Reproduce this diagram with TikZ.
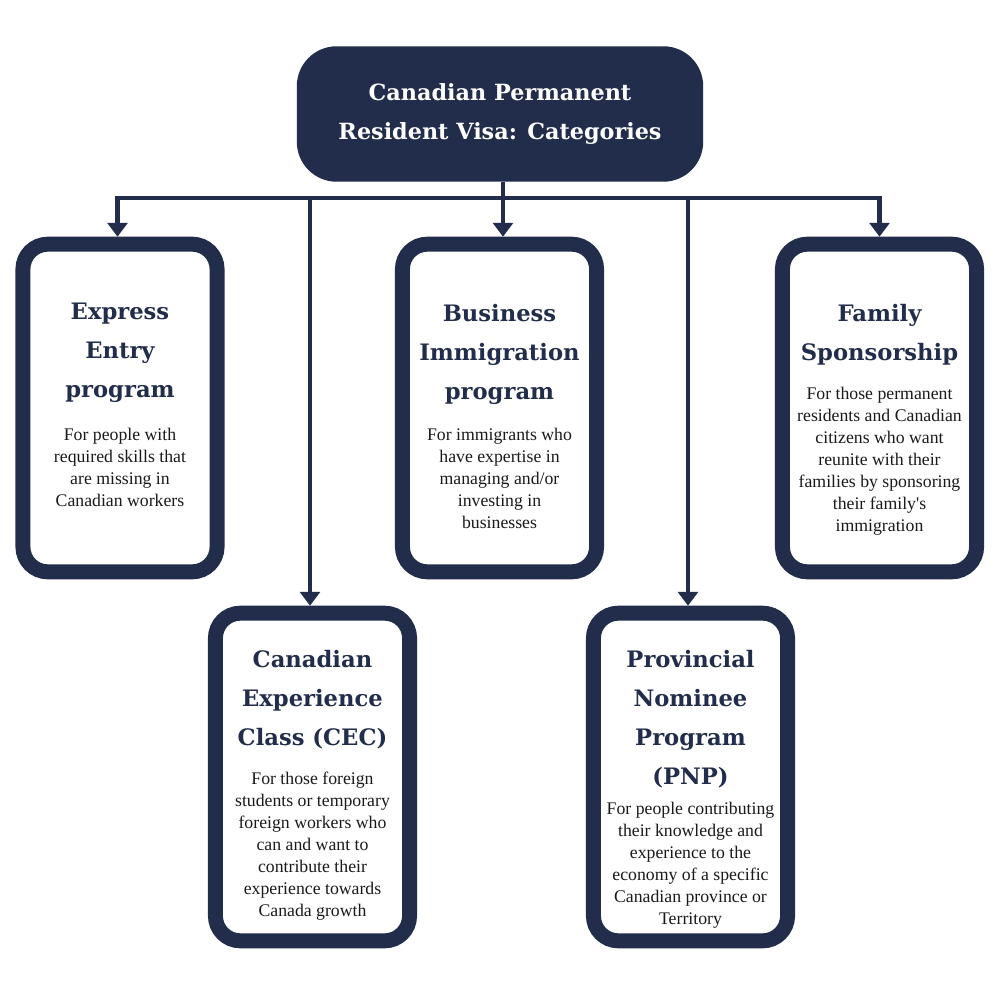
\documentclass[tikz,border=0pt]{standalone}
\usepackage{fontspec}
\setmainfont{Liberation Serif}
\newfontfamily\headfont{DejaVu Serif}
\usetikzlibrary{arrows.meta}
\definecolor{navy}{HTML}{212D4A}
\definecolor{ink}{HTML}{1A1A1A}

\begin{document}
\begin{tikzpicture}[x=0.02cm, y=-0.02cm,
  navytip/.tip={Triangle[width=11.3pt,length=7.9pt]},
  rootbox/.style={fill=navy, rounded corners=22.7pt, minimum width=231.3pt,
    minimum height=77.1pt, inner sep=0pt, text=white, align=center,
    font=\headfont\bfseries\fontsize{12.7pt}{21.8pt}\selectfont},
  card/.style={draw=navy, fill=white, line width=8.5pt, rounded corners=14.2pt,
    minimum width=110.5pt, minimum height=186.5pt, inner sep=0pt},
  head/.style={anchor=north, inner sep=0pt, text=navy, align=center,
    font=\headfont\bfseries\fontsize{12.9pt}{22.1pt}\selectfont},
  body/.style={anchor=north, inner sep=0pt, text=ink, align=center,
    font=\fontsize{10.1pt}{12.5pt}\selectfont},
  link/.style={draw=navy, line width=2.83pt}
]
\useasboundingbox[fill=white] (0,0) rectangle (1000,1000);

% title
\node[rootbox] (root) at (500,114) {Canadian Permanent\\Resident Visa: Categories};

% category cards
\node[card] (express)  at (120,408)   {};
\node[card] (business) at (499.5,408) {};
\node[card] (family)   at (879.5,408) {};
\node[card] (cec)      at (312.5,777) {};
\node[card] (pnp)      at (690.5,777) {};

% card headings
\node[head] (expressHead)  at (120,303)   {Express\\Entry\\program};
\node[head] (businessHead) at (499.5,304) {Business\\Immigration\\program};
\node[head] (familyHead)   at (879.5,304) {Family\\Sponsorship};
\node[head] (cecHead)      at (312.5,650) {Canadian\\Experience\\Class (CEC)};
\node[head] (pnpHead)      at (690.5,650) {Provincial\\Nominee\\Program\\(PNP)};

% card descriptions
\node[body] (expressText) at (120,428) {For people with\\required skills that\\are missing in\\Canadian workers};
\node[body] (businessText) at (499.5,428) {For immigrants who\\have expertise in\\managing and/or\\investing in\\businesses};
\node[body] (familyText) at (879.5,387) {For those permanent\\residents and Canadian\\citizens who want\\reunite with their\\families by sponsoring\\their family\textquotesingle s\\immigration};
\node[body] (cecText) at (312.5,772) {For those foreign\\students or temporary\\foreign workers who\\can and want to\\contribute their\\experience towards\\Canada growth};
\node[body] (pnpText) at (690.5,802) {For people contributing\\their knowledge and\\experience to the\\economy of a specific\\Canadian province or\\Territory};

% junction points on the distribution bar
\coordinate (busL) at (117.5,198);
\coordinate (busR) at (879.5,198);
\coordinate (busM) at (503,198);
\coordinate (busC) at (310,198);
\coordinate (busP) at (688,198);

% connectors
\draw[link, navytip-navytip] (busL |- express.north) -- (busL) -- (busR) -- (busR |- family.north);
\draw[link, -navytip] (root.south -| busM) -- (busM |- business.north);
\draw[link, -navytip] (busC) -- (busC |- cec.north);
\draw[link, -navytip] (busP) -- (busP |- pnp.north);
\end{tikzpicture}
\end{document}
